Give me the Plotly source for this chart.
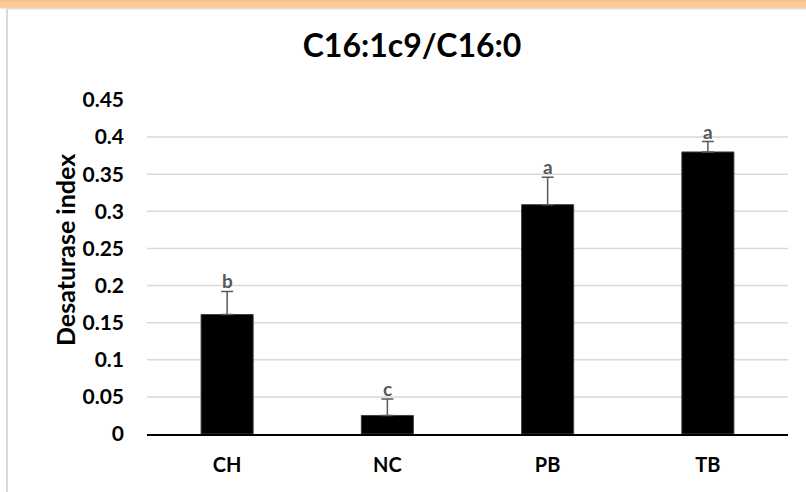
import plotly.graph_objects as go

categories = ["CH", "NC", "PB", "TB"]
values = [0.161, 0.025, 0.309, 0.380]
errors = [0.031, 0.022, 0.037, 0.014]
letters = ["b", "c", "a", "a"]
grid_vals = [0.05, 0.1, 0.15, 0.2, 0.25, 0.3, 0.35, 0.4]
tick_vals = [0, 0.05, 0.1, 0.15, 0.2, 0.25, 0.3, 0.35, 0.4, 0.45]
tick_text = ["0", "0.05", "0.1", "0.15", "0.2", "0.25", "0.3", "0.35", "0.4", "0.45"]
y_title = "Desaturase index"
chart_title = "C16:1c9/C16:0"

FONT = "Lato"
W, H = 806, 492
ML, MR, MT, MB = 147, 18, 100, 58

fig = go.Figure()
fig.add_trace(go.Bar(
    x=categories, y=values, width=0.325,
    marker=dict(color="#000000", line=dict(color="#404040", width=1)),
    error_y=dict(type="data", array=errors, symmetric=False,
                 arrayminus=[0] * len(errors), color="#595959",
                 thickness=1.5, width=6),
    showlegend=False,
))

for c, v, e, l in zip(categories, values, errors, letters):
    fig.add_annotation(x=c, y=v + e, text=l, showarrow=False,
                       yanchor="bottom", yshift=-3,
                       font=dict(family=FONT, size=19, color="#595959", weight="bold"))

shapes = []
for g in grid_vals:
    shapes.append(dict(type="line", xref="paper", yref="y", x0=0, x1=1, y0=g, y1=g,
                       line=dict(color="#D9D9D9", width=1.5), layer="below"))

pw = W - ML - MR
ph = H - MT - MB
def px_x(p):
    return (p - ML) / pw
def px_y(p):
    return (H - MB - p) / ph

# y-axis title placed as rotated annotation
fig.add_annotation(xref="paper", yref="paper", x=px_x(65), y=px_y(250),
                   xanchor="center", yanchor="middle", textangle=-90,
                   text=y_title, showarrow=False,
                   font=dict(family=FONT, size=25, color="#000000", weight="bold"))

# outer chart frame (gray) and top orange band
shapes.append(dict(type="line", xref="paper", yref="paper",
                   x0=px_x(7), x1=px_x(7), y0=px_y(9), y1=px_y(492),
                   line=dict(color="#D9D9D9", width=2)))
shapes.append(dict(type="line", xref="paper", yref="paper",
                   x0=px_x(7), x1=px_x(806), y0=px_y(9), y1=px_y(9),
                   line=dict(color="#D9D9D9", width=1)))
shapes.append(dict(type="rect", xref="paper", yref="paper",
                   x0=px_x(0), x1=px_x(806), y0=px_y(0), y1=px_y(8.5),
                   fillcolor="#FBCB9A", line=dict(width=0)))
shapes.append(dict(type="line", xref="paper", yref="paper",
                   x0=px_x(0), x1=px_x(806), y0=px_y(1), y1=px_y(1),
                   line=dict(color="#EFB986", width=1)))

fig.update_layout(
    width=W, height=H,
    margin=dict(l=ML, r=MR, t=MT, b=MB, autoexpand=False),
    paper_bgcolor="white", plot_bgcolor="rgba(0,0,0,0)",
    shapes=shapes,
    title=dict(text="<b>" + chart_title + "</b>", x=(412 - ML) / pw, xref="paper", xanchor="center",
               y=1 - 46 / H, yanchor="middle",
               font=dict(family=FONT, size=32, color="#000000")),
    font=dict(family=FONT, color="#000000"),
)

fig.update_xaxes(
    automargin=False,
    showgrid=False, showline=True, linecolor="#000000", linewidth=2,
    ticks="", ticklabelstandoff=12,
    tickfont=dict(family=FONT, size=20, color="#000000", weight="bold"),
)
fig.update_yaxes(
    automargin=False,
    range=[0, 0.45], tickvals=tick_vals, ticktext=tick_text,
    showgrid=False, zeroline=False, showline=False, ticks="",
    ticklabelstandoff=22,
    tickfont=dict(family=FONT, size=21, color="#000000", weight="bold"),
)

fig.write_html("out.html", config={"displayModeBar": False},
               post_script="document.body.style.margin='0px';document.body.style.overflow='hidden';")
